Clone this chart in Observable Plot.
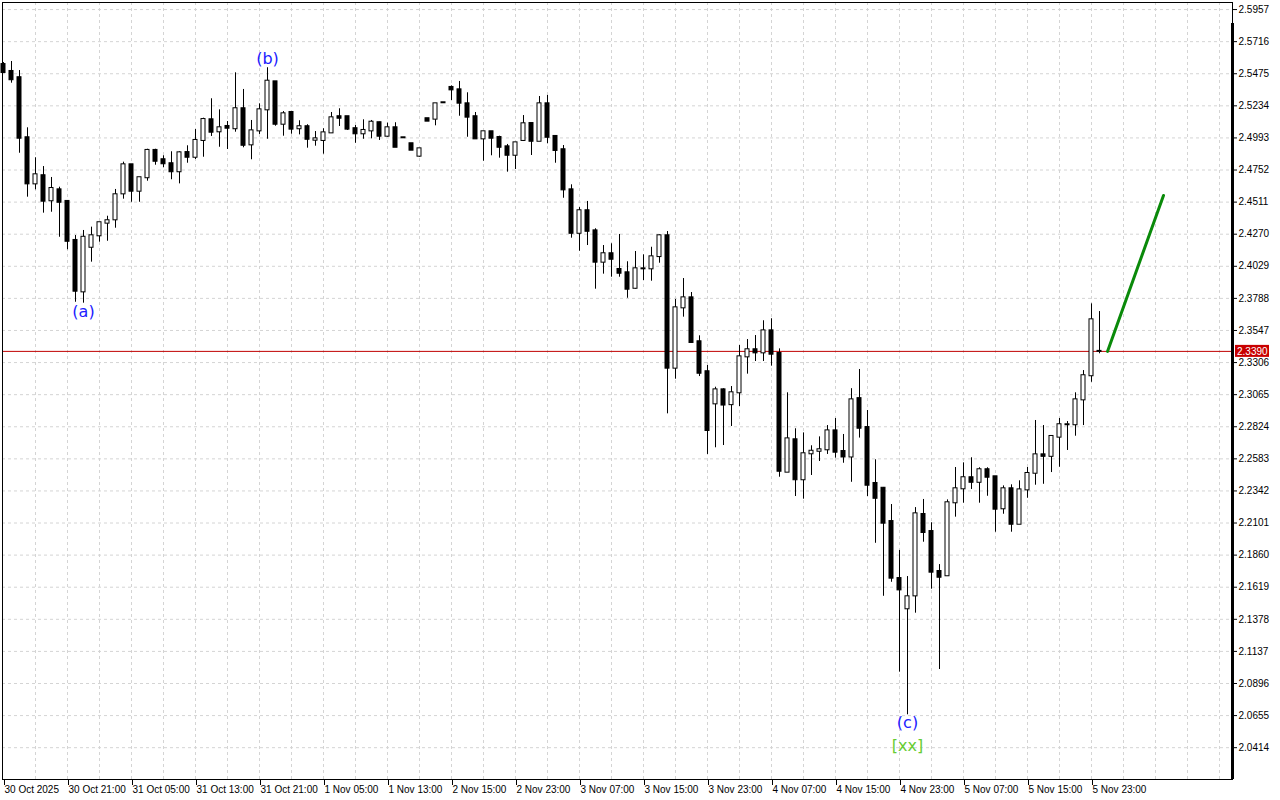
<!DOCTYPE html>
<html>
<head>
<meta charset="utf-8">
<script src="https://cdn.jsdelivr.net/npm/d3@7"></script>
<script src="https://cdn.jsdelivr.net/npm/@observablehq/plot@0.6"></script>
<style>
  html, body { margin: 0; padding: 0; background: #fff; }
  #chart { width: 1280px; height: 800px; }
</style>
</head>
<body>
<div id="chart"></div>
<script>
// ---- hourly candles (bar index 0..137) ----
const openP = [
2.5544,2.5492,2.5445,2.4994,2.4648,2.4709,2.4521,2.4603,2.4516,2.4223,
2.3837,2.4172,2.4258,2.4353,2.4378,2.4573,2.4791,2.4593,2.4694,2.4899,
2.4829,2.4799,2.4739,2.4883,2.4848,2.4974,2.5129,2.5039,2.5079,2.5062,
2.5212,2.4941,2.5046,2.5204,2.5414,2.5096,2.5184,2.5062,2.5077,2.4976,
2.4974,2.5031,2.5152,2.5152,2.5062,2.5024,2.5046,2.5107,2.5006,2.5069,
2.4994,2.4949,2.4856,2.5137,2.5134,2.5257,2.5372,2.5354,2.5249,2.5152,
2.4986,2.5039,2.4996,2.4926,2.4863,2.4974,2.5101,2.4968,2.5249,2.5004,
2.4904,2.4603,2.4277,2.4446,2.4295,2.4060,2.4123,2.4005,2.3980,2.3864,
2.4010,2.4010,2.4102,2.4258,2.3264,2.3717,2.3792,2.3462,2.3237,2.2996,
2.3101,2.2990,2.3079,2.3349,2.3402,2.3379,2.3544,2.3374,2.2483,2.2726,
2.2426,2.2621,2.2640,2.2651,2.2793,2.2638,2.2597,2.3035,2.2818,2.2398,
2.2362,2.2112,2.1684,2.1457,2.1554,2.2165,2.2037,2.1737,2.1705,2.2253,
2.2358,2.2441,2.2407,2.2501,2.2448,2.2208,2.2358,2.2092,2.2350,2.2475,
2.2613,2.2602,2.2746,2.2839,2.2839,2.3026,2.3207,2.3390];
const highP = [
2.5559,2.5567,2.5499,2.5069,2.4844,2.4778,2.4696,2.4623,2.4523,2.4260,
2.4298,2.4323,2.4358,2.4405,2.4606,2.4811,2.4793,2.4696,2.4908,2.4908,
2.4859,2.4889,2.4889,2.4934,2.5056,2.5141,2.5287,2.5204,2.5116,2.5482,
2.5357,2.5124,2.5249,2.5520,2.5416,2.5191,2.5191,2.5122,2.5092,2.5041,
2.5062,2.5184,2.5212,2.5152,2.5086,2.5129,2.5124,2.5111,2.5104,2.5107,
2.4995,2.4949,2.4911,2.5137,2.5249,2.5258,2.5384,2.5417,2.5332,2.5184,
2.5039,2.5039,2.5006,2.4944,2.4956,2.5161,2.5101,2.5304,2.5312,2.5011,
2.4936,2.4641,2.4470,2.4516,2.4311,2.4185,2.4198,2.4268,2.4063,2.4140,
2.4115,2.4172,2.4265,2.4290,2.3780,2.3937,2.3832,2.3507,2.3284,2.3121,
2.3109,2.3126,2.3434,2.3479,2.3509,2.3620,2.3635,2.3409,2.3079,2.2809,
2.2778,2.2681,2.2748,2.2833,2.2886,2.2766,2.3110,2.3254,2.2946,2.2576,
2.2368,2.2240,2.1895,2.1699,2.2217,2.2278,2.2103,2.1789,2.2275,2.2518,
2.2553,2.2591,2.2516,2.2516,2.2448,2.2380,2.2388,2.2418,2.2518,2.2871,
2.2833,2.2751,2.2886,2.2863,2.3079,2.3246,2.3747,2.3689];
const lowP = [
2.5480,2.5404,2.4878,2.4548,2.4603,2.4428,2.4435,2.4247,2.4153,2.3759,
2.3752,2.4060,2.4210,2.4217,2.4315,2.4533,2.4510,2.4510,2.4668,2.4788,
2.4769,2.4679,2.4648,2.4803,2.4831,2.4848,2.5004,2.4923,2.4906,2.5036,
2.4919,2.4829,2.5019,2.4983,2.5081,2.5006,2.5021,2.5016,2.4916,2.4931,
2.4871,2.5031,2.5079,2.5049,2.4953,2.4983,2.4986,2.4974,2.4998,2.4923,
2.4993,2.4901,2.4848,2.5119,2.5084,2.5256,2.5274,2.5156,2.4998,2.4986,
2.4818,2.4859,2.4841,2.4736,2.4756,2.4966,2.4861,2.4968,2.4949,2.4803,
2.4540,2.4240,2.4142,2.4185,2.3857,2.3970,2.3947,2.3947,2.3789,2.3857,
2.3922,2.3917,2.4052,2.2921,2.3181,2.3647,2.3451,2.3201,2.2616,2.2666,
2.2683,2.2826,2.2976,2.3219,2.3314,2.3314,2.3279,2.2445,2.2483,2.2300,
2.2280,2.2458,2.2563,2.2616,2.2588,2.2550,2.2407,2.2739,2.2300,2.1949,
2.1551,2.1656,2.0981,2.0661,2.1424,2.1957,2.1604,2.1001,2.1705,2.2145,
2.2250,2.2353,2.2250,2.2302,2.2032,2.2167,2.2032,2.2092,2.2287,2.2385,
2.2392,2.2480,2.2520,2.2646,2.2753,2.2833,2.3158,2.3372];
const closeP = [
2.5484,2.5430,2.4991,2.4648,2.4716,2.4518,2.4613,2.4510,2.4217,2.3842,
2.4247,2.4258,2.4356,2.4371,2.4566,2.4791,2.4593,2.4694,2.4899,2.4818,
2.4799,2.4739,2.4881,2.4848,2.4974,2.5131,2.5036,2.5069,2.5066,2.5212,
2.4938,2.5046,2.5204,2.5419,2.5096,2.5174,2.5059,2.5077,2.4983,2.4986,
2.5031,2.5144,2.5141,2.5059,2.5024,2.5049,2.5111,2.5006,2.5069,2.4923,
2.4994,2.4901,2.4911,2.5119,2.5249,2.5257,2.5354,2.5254,2.5149,2.4986,
2.5039,2.4991,2.4923,2.4863,2.4956,2.5099,2.4968,2.5249,2.4998,2.4899,
2.4603,2.4277,2.4446,2.4292,2.4060,2.4123,2.4082,2.3977,2.3857,2.4010,
2.4010,2.4100,2.4258,2.3264,2.3717,2.3792,2.3457,2.3226,2.2796,2.3101,
2.2987,2.3079,2.3349,2.3402,2.3379,2.3544,2.3369,2.2490,2.2733,2.2426,
2.2621,2.2640,2.2651,2.2793,2.2633,2.2597,2.3026,2.2813,2.2385,2.2287,
2.2100,2.1687,2.1599,2.1547,2.2170,2.2030,2.1732,2.1694,2.2253,2.2358,
2.2441,2.2407,2.2501,2.2445,2.2205,2.2358,2.2092,2.2350,2.2473,2.2613,
2.2602,2.2751,2.2839,2.2839,2.3026,2.3207,2.3627,2.3390];

// ---- axes ----
const yTicks = [2.5957,2.5716,2.5475,2.5234,2.4993,2.4752,2.4511,2.4270,2.4029,2.3788,
  2.3547,2.3306,2.3065,2.2824,2.2583,2.2342,2.2101,2.1860,2.1619,2.1378,2.1137,2.0896,2.0655,2.0414];
const xTickBars = [0,8,16,24,32,40,48,56,64,72,80,88,96,104,112,120,128,136];
const xTickLabels = ["30 Oct 2025","30 Oct 21:00","31 Oct 05:00","31 Oct 13:00","31 Oct 21:00",
  "1 Nov 05:00","1 Nov 13:00","2 Nov 15:00","2 Nov 23:00","3 Nov 07:00","3 Nov 15:00",
  "3 Nov 23:00","4 Nov 07:00","4 Nov 15:00","4 Nov 23:00","5 Nov 07:00","5 Nov 15:00","5 Nov 23:00"];

// ---- projection & wave labels ----
const projBars = [138, 145];
const projPrices = [2.3390, 2.4561];
const waveText = ["(a)", "(b)", "(c)", "[xx]"];
const waveBars = [10, 33, 113, 113];
const wavePrices = [2.3689, 2.5589, 2.0603, 2.0430];
const waveColors = ["#2020ff", "#2020ff", "#2020ff", "#66cc33"];
const lastPrice = 2.3390;

// ---- build tables ----
const candles = openP.map((o, i) => ({i, open: o, high: highP[i], low: lowP[i], close: closeP[i]}));
const proj = projBars.map((b, k) => ({i: b, p: projPrices[k]}));
const waves = waveText.map((t, k) => ({t, i: waveBars[k], p: wavePrices[k], c: waveColors[k]}));
const labelOf = new Map(xTickBars.map((b, k) => [b, xTickLabels[k]]));
const xDomain = [-0.125, 153.625];
const yDomain = [2.0175, 2.6010];

const chart = Plot.plot({
  width: 1280,
  height: 800,
  marginLeft: 2,
  marginRight: 48,
  marginTop: 2,
  marginBottom: 21,
  style: {fontFamily: "Liberation Sans", fontSize: "10px", background: "#fff", color: "#000"},
  x: {type: "linear", domain: xDomain},
  y: {type: "linear", domain: yDomain},
  marks: [
    Plot.gridY({ticks: yTicks, stroke: "#d4d4d4", strokeOpacity: 1, strokeDasharray: "3,3"}),
    Plot.gridX({ticks: d3.range(4, 154, 4), stroke: "#d4d4d4", strokeOpacity: 1, strokeDasharray: "3,3"}),
    Plot.ruleY([lastPrice], {stroke: "#c00000", strokeWidth: 1}),
    Plot.ruleX(candles, {x: "i", y1: "low", y2: "high", stroke: "#000", strokeWidth: 1}),
    Plot.rect(candles, {
      x1: d => d.i - 0.25, x2: d => d.i + 0.25,
      y1: "open", y2: "close",
      insetTop: -0.5, insetBottom: -0.5,
      fill: d => d.close >= d.open ? "#fff" : "#000",
      stroke: "#000", strokeWidth: 1
    }),
    Plot.line(proj, {x: "i", y: "p", stroke: "#0a8a0a", strokeWidth: 3}),
    Plot.text(waves, {x: "i", y: "p", text: "t", fill: "c", fontSize: 16, fontFamily: "DejaVu Sans"}),
    Plot.frame({stroke: "#000"}),
    Plot.ruleX([xDomain[1]], {y1: yDomain[0], y2: 2.5852, stroke: "#000", strokeWidth: 3}),
    Plot.axisY({anchor: "right", ticks: yTicks, tickFormat: d3.format(".4f"), tickSize: 4, tickPadding: 2, label: null, fontSize: 10}),
    Plot.axisX({anchor: "bottom", ticks: xTickBars, tickFormat: d => labelOf.get(d), tickSize: 6, tickPadding: 0, textAnchor: "start", dx: 1, label: null, fontSize: 10})
  ]
});

// current price tag on the right axis
const svg = d3.select(chart);
const yPos = chart.scale("y").apply(lastPrice);
const xPos = chart.scale("x").apply(xDomain[1]);
const tag = svg.append("g");
tag.append("rect").attr("x", xPos + 3).attr("y", yPos - 6).attr("width", 34).attr("height", 12).attr("fill", "#c80000");
tag.append("text").attr("x", xPos + 5).attr("y", yPos + 4).attr("fill", "#fff")
  .attr("text-anchor", "start")
  .attr("font-family", "Liberation Sans").attr("font-size", 10).text(d3.format(".4f")(lastPrice));

document.getElementById("chart").appendChild(chart);
</script>
</body>
</html>
